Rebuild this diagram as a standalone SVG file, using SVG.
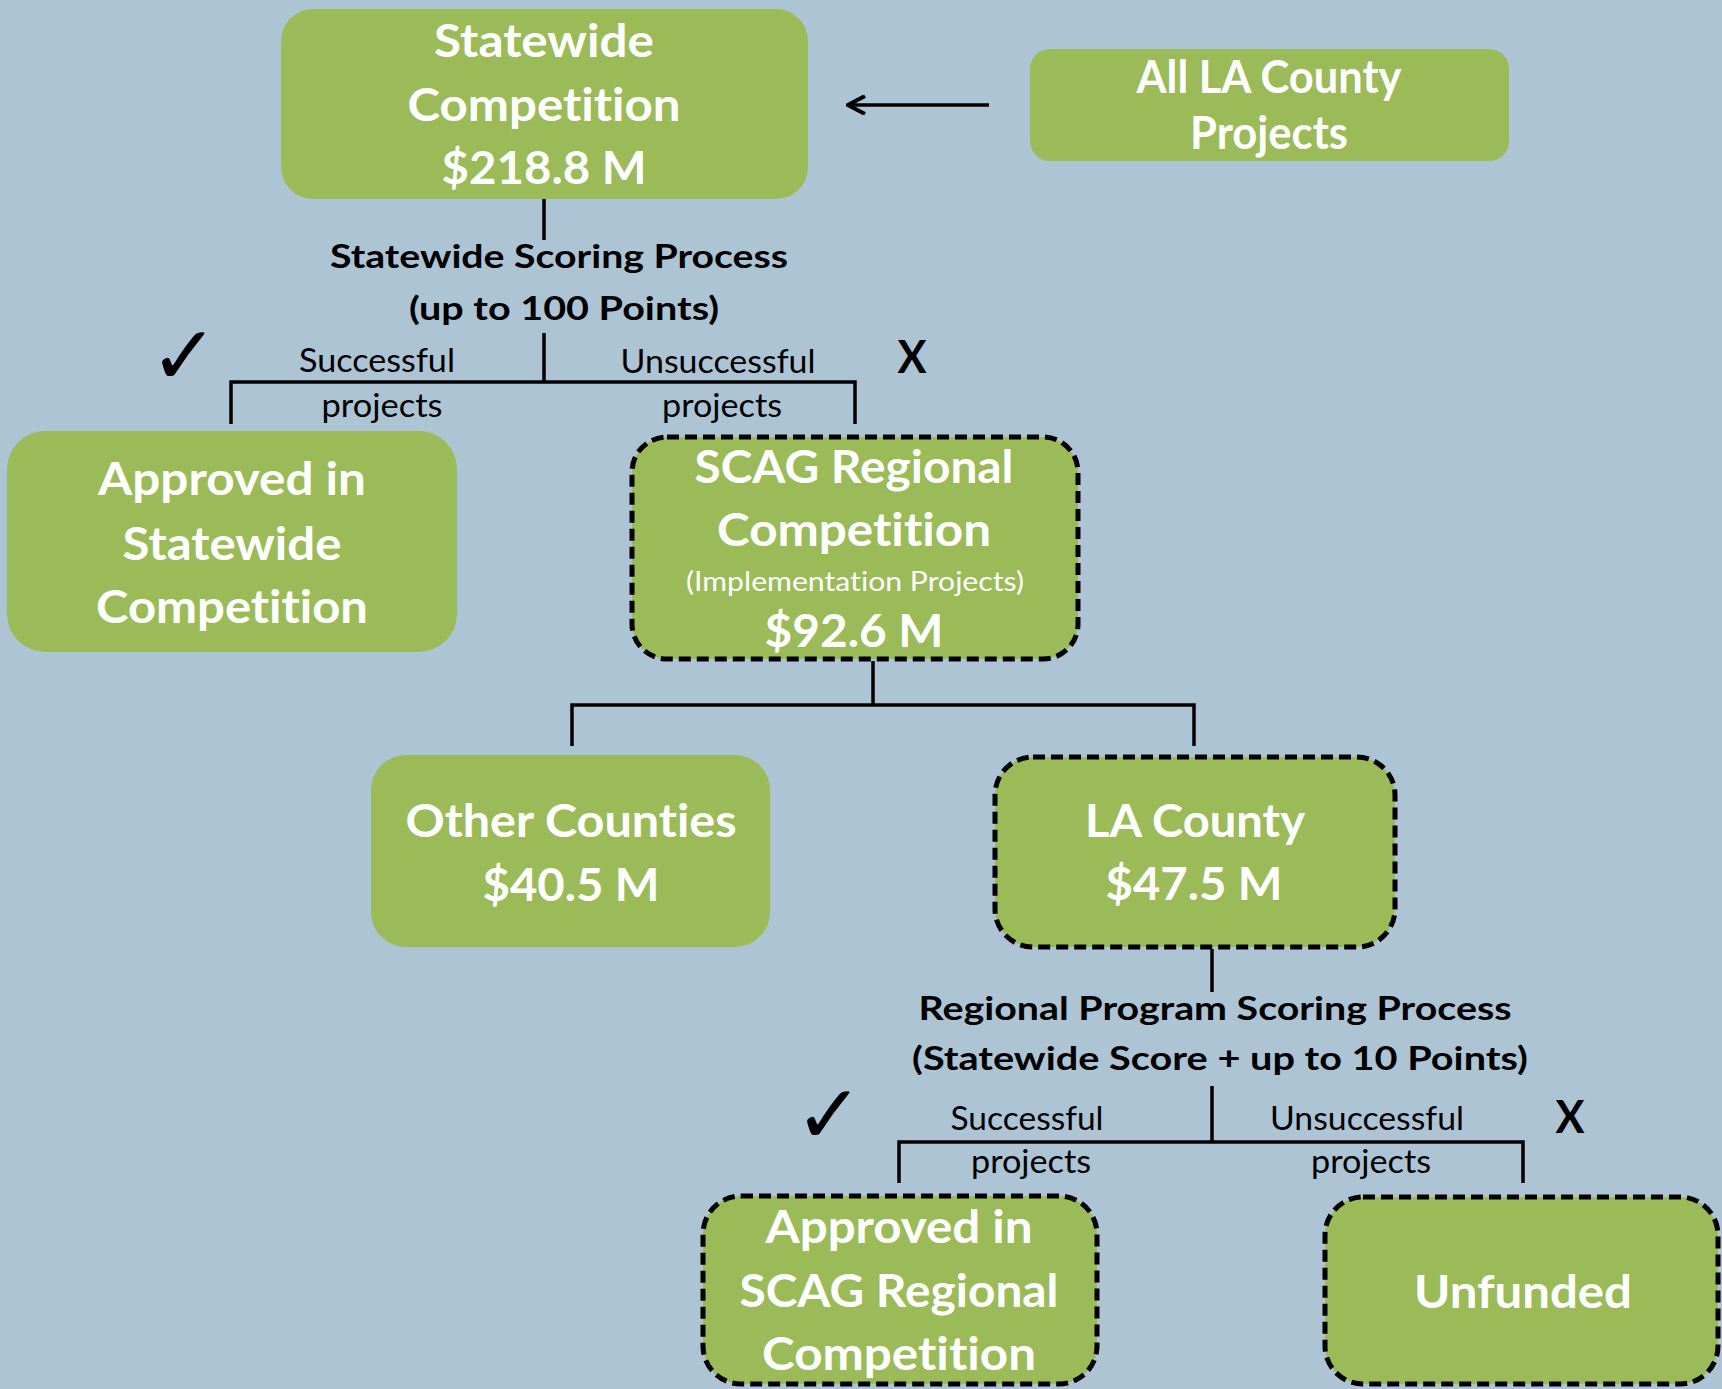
<svg xmlns="http://www.w3.org/2000/svg" width="1722" height="1389" viewBox="0 0 1722 1389">
<style>
text{font-variant-ligatures:none;font-feature-settings:"liga" 0,"clig" 0;}
.box{fill:#9BBB59;}
.dash{fill:#9BBB59;stroke:#000;stroke-width:5;stroke-dasharray:12 6;}
.t{font-family:Lato,"Open Sans","Liberation Sans",sans-serif;font-weight:bold;font-size:45px;fill:#fff;text-anchor:middle;}
.s{font-family:Lato,"Open Sans","Liberation Sans",sans-serif;font-size:26px;fill:#fff;text-anchor:middle;}
.lb{font-family:Lato,"Open Sans","Liberation Sans",sans-serif;font-weight:bold;font-size:32px;fill:#000;text-anchor:middle;}
.lr{font-family:Lato,"Open Sans","Liberation Sans",sans-serif;font-size:32px;fill:#000;text-anchor:middle;}
.ck{font-family:"DejaVu Sans",sans-serif;font-size:82px;fill:#000;text-anchor:middle;}
.ln{fill:none;stroke:#000;stroke-width:3.5;}
</style>
<defs>
<marker id="ah" viewBox="0 0 20 20" refX="18" refY="10" markerWidth="20" markerHeight="20" markerUnits="userSpaceOnUse" orient="auto">
<path d="M1 1 L18 10 L1 19" fill="none" stroke="#000" stroke-width="4"/>
</marker>
</defs>
<rect width="1722" height="1389" fill="#ACC4D4"/>

<g id="connectors">
<path class="ln" d="M989 105 H848" marker-end="url(#ah)"/>
<path class="ln" d="M544 199 V240"/>
<path class="ln" d="M544 333 V382"/>
<path class="ln" d="M231 424 V382 H855 V424"/>
<path class="ln" d="M873 661 V705"/>
<path class="ln" d="M572 746 V705 H1194 V746"/>
<path class="ln" d="M1212 949 V992"/>
<path class="ln" d="M1212 1086 V1142"/>
<path class="ln" d="M899 1183 V1142 H1523 V1183"/>
</g>

<g id="labels">
<text class="lb" x="559" y="268" textLength="458" lengthAdjust="spacingAndGlyphs">Statewide Scoring Process</text>
<text class="lb" x="564" y="320" textLength="310" lengthAdjust="spacingAndGlyphs">(up to 100 Points)</text>
<text class="lr" x="377" y="372" textLength="156" lengthAdjust="spacingAndGlyphs">Successful</text>
<text class="lr" x="382" y="417" textLength="121" lengthAdjust="spacingAndGlyphs">projects</text>
<text class="lr" x="718" y="373" textLength="195" lengthAdjust="spacingAndGlyphs">Unsuccessful</text>
<text class="lr" x="722" y="417" textLength="120" lengthAdjust="spacingAndGlyphs">projects</text>
<text class="ck" x="184" y="384">✓</text>
<text class="lb" x="912" y="373" style="font-size:45px" textLength="29" lengthAdjust="spacingAndGlyphs">X</text>

<text class="lb" x="1215" y="1020" textLength="593" lengthAdjust="spacingAndGlyphs">Regional Program Scoring Process</text>
<text class="lb" x="1220" y="1070" textLength="616" lengthAdjust="spacingAndGlyphs">(Statewide Score + up to 10 Points)</text>
<text class="lr" x="1027" y="1130" textLength="153" lengthAdjust="spacingAndGlyphs">Successful</text>
<text class="lr" x="1031" y="1173" textLength="120" lengthAdjust="spacingAndGlyphs">projects</text>
<text class="lr" x="1367" y="1130" textLength="194" lengthAdjust="spacingAndGlyphs">Unsuccessful</text>
<text class="lr" x="1371" y="1173" textLength="120" lengthAdjust="spacingAndGlyphs">projects</text>
<text class="ck" x="829" y="1143">✓</text>
<text class="lb" x="1570" y="1133" style="font-size:45px" textLength="29" lengthAdjust="spacingAndGlyphs">X</text>
</g>

<g id="statewide">
<rect class="box" x="281" y="9" width="527" height="190" rx="32"/>
<text class="t" x="544" y="57" textLength="220" lengthAdjust="spacingAndGlyphs">Statewide</text>
<text class="t" x="544" y="121" textLength="273" lengthAdjust="spacingAndGlyphs">Competition</text>
<text class="t" x="544" y="184" textLength="205" lengthAdjust="spacingAndGlyphs">$218.8 M</text>
</g>

<g id="all-la">
<rect class="box" x="1030" y="49" width="479" height="112" rx="20"/>
<text class="t" x="1269" y="93" textLength="265" lengthAdjust="spacingAndGlyphs">All LA County</text>
<text class="t" x="1269" y="149" textLength="158" lengthAdjust="spacingAndGlyphs">Projects</text>
</g>

<g id="approved-statewide">
<rect class="box" x="7" y="431" width="450" height="221" rx="38"/>
<text class="t" x="232" y="495" textLength="268" lengthAdjust="spacingAndGlyphs">Approved in</text>
<text class="t" x="232" y="560" textLength="219" lengthAdjust="spacingAndGlyphs">Statewide</text>
<text class="t" x="232" y="623" textLength="272" lengthAdjust="spacingAndGlyphs">Competition</text>
</g>

<g id="scag">
<rect class="dash" x="632" y="437" width="446" height="222" rx="35"/>
<text class="t" x="854" y="483" textLength="319" lengthAdjust="spacingAndGlyphs">SCAG Regional</text>
<text class="t" x="854" y="546" textLength="274" lengthAdjust="spacingAndGlyphs">Competition</text>
<text class="s" x="855" y="591" textLength="338" lengthAdjust="spacingAndGlyphs">(Implementation Projects)</text>
<text class="t" x="854" y="647" textLength="179" lengthAdjust="spacingAndGlyphs">$92.6 M</text>
</g>

<g id="other-counties">
<rect class="box" x="371" y="755" width="399" height="192" rx="35"/>
<text class="t" x="571" y="837" textLength="331" lengthAdjust="spacingAndGlyphs">Other Counties</text>
<text class="t" x="571" y="901" textLength="177" lengthAdjust="spacingAndGlyphs">$40.5 M</text>
</g>

<g id="la-county">
<rect class="dash" x="995" y="757" width="400" height="190" rx="38"/>
<text class="t" x="1195" y="837" textLength="220" lengthAdjust="spacingAndGlyphs">LA County</text>
<text class="t" x="1194" y="900" textLength="177" lengthAdjust="spacingAndGlyphs">$47.5 M</text>
</g>

<g id="approved-scag">
<rect class="dash" x="703" y="1196" width="394" height="188" rx="38"/>
<text class="t" x="899" y="1243" textLength="267" lengthAdjust="spacingAndGlyphs">Approved in</text>
<text class="t" x="899" y="1307" textLength="319" lengthAdjust="spacingAndGlyphs">SCAG Regional</text>
<text class="t" x="899" y="1370" textLength="274" lengthAdjust="spacingAndGlyphs">Competition</text>
</g>

<g id="unfunded">
<rect class="dash" x="1325" y="1197" width="393" height="187" rx="38"/>
<text class="t" x="1523" y="1308" textLength="218" lengthAdjust="spacingAndGlyphs">Unfunded</text>
</g>
</svg>
